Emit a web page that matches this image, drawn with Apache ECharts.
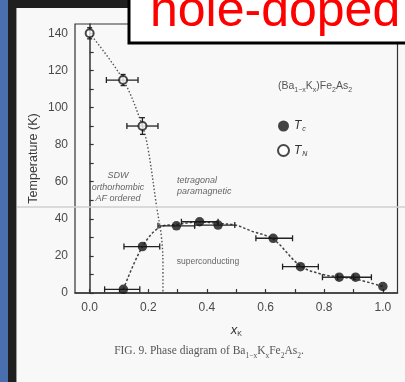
<!DOCTYPE html>
<html><head><meta charset="utf-8">
<script src="https://cdn.jsdelivr.net/npm/echarts@6/dist/echarts.min.js"></script>
<style>
html,body{margin:0;padding:0;background:#f7f7f7;}
#wrap{position:relative;width:405px;height:382px;overflow:hidden;background:#f8f8f8;}
#blue{position:absolute;left:0;top:0;width:8px;height:382px;background:#4a6fae;}
#dark{position:absolute;left:8px;top:0;width:8px;height:382px;background:#1f1f1f;}
#topd{position:absolute;left:8px;top:0;width:397px;height:8px;background:#1f1f1f;}
#edge{position:absolute;left:16px;top:8px;width:1px;height:374px;background:#9a9a9a;}
#chart{position:absolute;left:0;top:0;width:405px;height:382px;}
</style></head>
<body>
<div id="wrap"><div id="blue"></div><div id="dark"></div><div id="topd"></div><div id="edge"></div><div id="chart"></div></div>
<script>
// ---- data ----
const tcX     = [0.115, 0.18, 0.296, 0.375, 0.438, 0.626, 0.719, 0.851, 0.907, 1.0];
const tcY     = [2, 25, 36.2, 38.4, 36.6, 29.5, 14.2, 8.5, 8.5, 3.5];
const tcXLo   = [0.051, 0.117, 0.233, 0.313, 0.358, 0.567, 0.658, 0.794, 0.846, 1.0];
const tcXHi   = [0.171, 0.239, 0.358, 0.438, 0.495, 0.692, 0.78, 0.9, 0.961, 1.0];
const tnX     = [0.0, 0.114, 0.18];
const tnY     = [140, 114.8, 90];
const tnXLo   = [0.0, 0.057, 0.127];
const tnXHi   = [0.0, 0.165, 0.233];
const tnYErr  = [3, 3, 4.5];
const tnCurveX = [0.0, 0.114, 0.18, 0.2, 0.228, 0.245, 0.25, 0.25];
const tnCurveY = [140, 115, 90, 77, 47, 30, 15, 0];
const tcCurveX = [0.115, 0.18, 0.24, 0.3, 0.375, 0.44, 0.5, 0.55, 0.626, 0.72, 0.8, 0.85, 0.92, 1.0];
const tcCurveY = [2, 25, 35.5, 37, 38.3, 37.5, 36.5, 33.5, 29, 14.5, 9.8, 8.8, 7, 3.5];
const xLabelVals = [0, 0.2, 0.4, 0.6, 0.8, 1.0];
const xTickVals  = [0, 0.1, 0.2, 0.3, 0.4, 0.5, 0.6, 0.7, 0.8, 0.9, 1.0];
const yLabelVals = [0, 20, 40, 60, 80, 100, 120, 140];
const yTickVals  = [0, 10, 20, 30, 40, 50, 60, 70, 80, 90, 100, 110, 120, 130, 140];

const ink = '#222';
const txt = '#4a4a4a';
const chart = echarts.init(document.getElementById('chart'), null, {renderer: 'canvas'});

function errRender(params, api) {
  const x = api.value(0), y = api.value(1), lo = api.value(2), hi = api.value(3), ye = api.value(4);
  const c = api.coord([x, y]);
  const children = [];
  const st = {stroke: ink, lineWidth: 1.3};
  if (hi > lo) {
    const pl = api.coord([lo, y]), ph = api.coord([hi, y]);
    children.push({type: 'line', shape: {x1: pl[0], y1: c[1], x2: ph[0], y2: c[1]}, style: st});
    children.push({type: 'line', shape: {x1: pl[0], y1: c[1] - 3, x2: pl[0], y2: c[1] + 3}, style: st});
    children.push({type: 'line', shape: {x1: ph[0], y1: c[1] - 3, x2: ph[0], y2: c[1] + 3}, style: st});
  }
  if (ye > 0) {
    const pt = api.coord([x, y + ye]), pb = api.coord([x, y - ye]);
    children.push({type: 'line', shape: {x1: c[0], y1: pt[1], x2: c[0], y2: pb[1]}, style: st});
    children.push({type: 'line', shape: {x1: c[0] - 2.5, y1: pt[1], x2: c[0] + 2.5, y2: pt[1]}, style: st});
    children.push({type: 'line', shape: {x1: c[0] - 2.5, y1: pb[1], x2: c[0] + 2.5, y2: pb[1]}, style: st});
  }
  return {type: 'group', children};
}

const subRich = {
  t: {fontFamily: 'Liberation Sans', fontStyle: 'italic', fontSize: 12, color: '#333'},
  s: {fontFamily: 'Liberation Sans', fontStyle: 'italic', fontSize: 7, color: '#333', padding: [7, 0, 0, 1]}
};

const option = {
  animation: false,
  grid: {left: 75, right: 7.5, top: 24, bottom: 89, show: true, borderColor: '#333', borderWidth: 1.2, backgroundColor: 'transparent'},
  xAxis: {
    type: 'value', min: -0.05, max: 1.05,
    name: '{t|x}{s|K}', nameLocation: 'middle', nameGap: 30, nameMoveOverlap: false,
    nameTextStyle: {rich: {t: {fontFamily: 'Liberation Sans', fontStyle: 'italic', fontSize: 13, color: '#333'}, s: {fontFamily: 'Liberation Sans', fontSize: 7, color: '#333', padding: [8, 0, 0, 0]}}},
    axisLine: {lineStyle: {color: '#333', width: 1.5}},
    axisTick: {inside: true, length: 4, customValues: xTickVals, lineStyle: {color: '#333', width: 1.2}},
    axisLabel: {customValues: xLabelVals, margin: 9, fontFamily: 'Liberation Sans', fontSize: 12, color: txt, formatter: v => v.toFixed(1)},
    splitLine: {show: false}
  },
  yAxis: {
    type: 'value', min: 0, max: 145,
    name: 'Temperature (K)', nameLocation: 'middle', nameGap: 35, nameRotate: 90, nameMoveOverlap: false,
    nameTextStyle: {fontFamily: 'Liberation Sans', fontSize: 12.5, color: '#3a3a3a'},
    axisLine: {lineStyle: {color: '#333', width: 1.5}},
    axisTick: {inside: true, length: 4, customValues: yTickVals, lineStyle: {color: '#333', width: 1.2}},
    axisLabel: {customValues: yLabelVals, margin: 7, fontFamily: 'Liberation Sans', fontSize: 12, color: txt},
    splitLine: {show: false}
  },
  legend: {
    data: ['Tc', 'TN'], orient: 'vertical', left: 272, top: 115, itemGap: 11,
    itemWidth: 11, itemHeight: 11, icon: 'circle',
    formatter: n => n === 'Tc' ? '{t|T}{s|c}' : '{t|T}{s|N}',
    textStyle: {rich: subRich}
  },
  series: [
    {type: 'line', name: 'TN curve', data: tnCurveX.map((x, i) => [x, tnCurveY[i]]), smooth: 0.35, symbol: 'none',
     lineStyle: {color: '#555', width: 1.4, type: [1.5, 2]}, z: 2},
    {type: 'line', name: 'Tc curve', data: tcCurveX.map((x, i) => [x, tcCurveY[i]]), smooth: 0.35, symbol: 'none',
     lineStyle: {color: '#444', width: 1.5, type: [2.5, 2]}, z: 2},
    {type: 'custom', name: 'Tc err', renderItem: errRender, data: tcX.map((x, i) => [x, tcY[i], tcXLo[i], tcXHi[i], 0]), z: 3, silent: true},
    {type: 'custom', name: 'TN err', renderItem: errRender, data: tnX.map((x, i) => [x, tnY[i], tnXLo[i], tnXHi[i], tnYErr[i]]), z: 3, silent: true},
    {type: 'scatter', name: 'Tc', data: tcX.map((x, i) => [x, tcY[i]]), symbol: 'circle', symbolSize: 9.5,
     itemStyle: {color: '#151515'}, z: 4},
    {type: 'scatter', name: 'TN', data: tnX.map((x, i) => [x, tnY[i]]), symbol: 'circle', symbolSize: 8,
     itemStyle: {color: '#fff', borderColor: '#1a1a1a', borderWidth: 2}, z: 4}
  ],
  graphic: [
    {type: 'line', shape: {x1: 17, y1: 207, x2: 405, y2: 207}, style: {stroke: '#d0d0d0', lineWidth: 1.5}, z: 50},
    {type: 'text', x: 315, y: 86, z: 10, style: {text: '(Ba{s|1−x}K{s|x})Fe{s|2}As{s|2}', align: 'center', verticalAlign: 'middle',
      font: '10.5px Liberation Sans', fill: '#555',
      rich: {s: {fontSize: 7, fill: '#555', fontFamily: 'Liberation Sans', padding: [9, 0, 0, 0]}}}},
    {type: 'text', x: 118, y: 187, z: 10, style: {text: 'SDW\northorhombic\nAF ordered', align: 'center', verticalAlign: 'middle',
      font: 'italic 9px Liberation Sans', fill: '#666', lineHeight: 11.5}},
    {type: 'text', x: 177, y: 186, z: 10, style: {text: 'tetragonal\nparamagnetic', align: 'left', verticalAlign: 'middle',
      font: 'italic 9px Liberation Sans', fill: '#666', lineHeight: 11.5}},
    {type: 'text', x: 208, y: 262, z: 10, style: {text: 'superconducting', align: 'center', verticalAlign: 'middle',
      font: '8.5px Liberation Sans', fill: '#666'}},
    {type: 'text', x: 209, y: 351, z: 10, style: {text: 'FIG. 9. Phase diagram of Ba{s|1−x}K{s|x}Fe{s|2}As{s|2}.', align: 'center', verticalAlign: 'middle',
      font: '11.5px Liberation Serif', fill: '#555',
      rich: {s: {fontSize: 7.5, fill: '#555', fontFamily: 'Liberation Serif', padding: [10, 0, 0, 0]}}}},
    {type: 'rect', shape: {x: 129, y: -5, width: 290, height: 48}, style: {fill: '#fff', stroke: '#000', lineWidth: 3}, z: 100},
    {type: 'text', x: 150, y: 37, z: 101, style: {text: 'hole-doped', font: '50px Liberation Sans', fill: '#ff0000', verticalAlign: 'bottom'}}
  ]
};
chart.setOption(option);
</script>
</body></html>
